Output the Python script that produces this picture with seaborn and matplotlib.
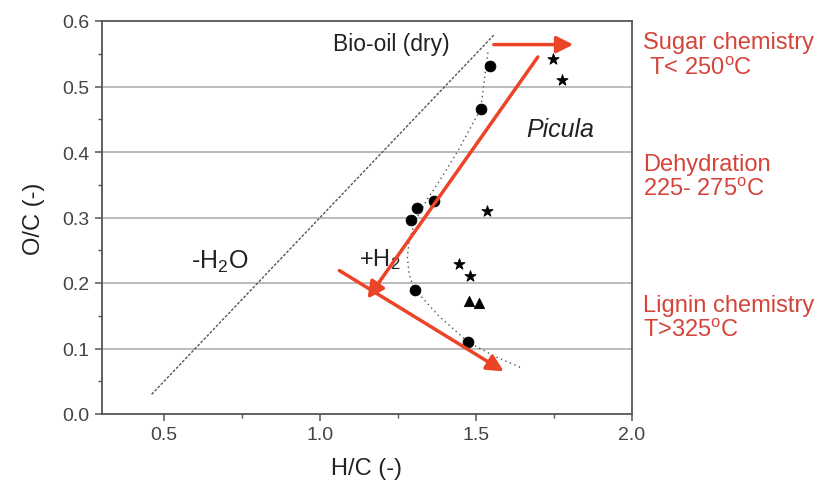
import matplotlib
matplotlib.use("Agg")
import matplotlib.pyplot as plt
import seaborn as sns
import pandas as pd
from matplotlib.ticker import MultipleLocator

# ---- data ----
circle_hc = [1.544, 1.515, 1.365, 1.312, 1.290, 1.304, 1.474]
circle_oc = [0.531, 0.466, 0.325, 0.314, 0.296, 0.190, 0.110]

star_hc = [1.746, 1.775, 1.536, 1.447, 1.481]
star_oc = [0.542, 0.510, 0.310, 0.229, 0.211]

tri_hc = [1.477, 1.509]
tri_oc = [0.173, 0.169]

# dehydration (-H2O) line end points
water_hc = [0.46, 1.56]
water_oc = [0.03, 0.58]

# dotted trend curve through the Picula points
trend_hc = [1.538, 1.515, 1.446, 1.395, 1.344, 1.305, 1.286, 1.280, 1.285, 1.300, 1.380, 1.474, 1.560, 1.647]
trend_oc = [0.552, 0.466, 0.405, 0.365, 0.328, 0.295, 0.265, 0.240, 0.215, 0.192, 0.150, 0.110, 0.088, 0.070]

# red arrows (start -> tip)
arrow_start_hc = [1.557, 1.698, 1.062]
arrow_start_oc = [0.564, 0.545, 0.219]
arrow_tip_hc = [1.812, 1.152, 1.589]
arrow_tip_oc = [0.564, 0.176, 0.065]

x_ticks = [0.5, 1.0, 1.5, 2.0]
y_ticks = [0.0, 0.1, 0.2, 0.3, 0.4, 0.5, 0.6]

side_labels = ["Sugar chemistry\n T< 250$^{\\rm o}$C",
               "Dehydration\n225- 275$^{\\rm o}$C",
               "Lignin chemistry\nT>325$^{\\rm o}$C"]
side_label_y = [0.885, 0.634, 0.343]

sns.set_style("ticks")
plt.rcParams['font.family'] = ['Liberation Sans', 'DejaVu Sans']
plt.rcParams['mathtext.fontset'] = 'custom'
plt.rcParams['mathtext.rm'] = 'Liberation Sans'
plt.rcParams['mathtext.it'] = 'Liberation Sans:italic'

fig = plt.figure(figsize=(8.16, 4.85), dpi=100)
ax = fig.add_axes([101.7/816, 1-415/485, (632-101.7)/816, (415-22)/485])

ax.set_xlim(0.3, 2.0)
ax.set_ylim(0.0, 0.6)

for yv in y_ticks[1:-1]:
    ax.axhline(yv, color="#b0b0b0", lw=1.2, zorder=0)

sns.lineplot(x=water_hc, y=water_oc, ax=ax, color="#555555", lw=1.0,
             linestyle=(0, (2, 1.2)), sort=False, zorder=2)
sns.lineplot(x=trend_hc, y=trend_oc, ax=ax, color="#555555", lw=1.0,
             linestyle=(0, (1, 2.5)), sort=False, zorder=2)

sns.scatterplot(x=circle_hc, y=circle_oc, ax=ax, marker="o", s=60,
                color="black", edgecolor="black", zorder=4)
sns.scatterplot(x=star_hc, y=star_oc, ax=ax, marker="*", s=70,
                color="black", edgecolor="black", zorder=4)
sns.scatterplot(x=tri_hc, y=tri_oc, ax=ax, marker="^", s=55,
                color="black", edgecolor="black", zorder=4)

red = "#ec4427"
for sx, sy, tx, ty in zip(arrow_start_hc, arrow_start_oc, arrow_tip_hc, arrow_tip_oc):
    ax.annotate("", xy=(tx, ty), xytext=(sx, sy),
                arrowprops=dict(arrowstyle="-|>,head_length=1.0,head_width=0.5",
                                color=red, lw=2.5, shrinkA=0, shrinkB=0),
                zorder=5)

ax.text(1.04, 0.565, "Bio-oil (dry)", fontsize=16.5, color="#222222", va="center", ha="left")
ax.text(1.66, 0.435, "Picula", fontsize=18, style="italic", color="#222222", va="center", ha="left")
ax.text(0.585, 0.234, "-H$_2$O", fontsize=18, color="#222222", va="center", ha="left")
ax.text(1.125, 0.237, "+H$_2$", fontsize=17, color="#222222", va="center", ha="left")

ax.set_xticks(x_ticks)
ax.set_yticks(y_ticks)
ax.set_xticklabels([f"{v:.1f}" for v in x_ticks])
ax.set_yticklabels([f"{v:.1f}" for v in y_ticks])
ax.xaxis.set_minor_locator(MultipleLocator(0.25))
ax.yaxis.set_minor_locator(MultipleLocator(0.05))
ax.tick_params(which="major", direction="out", length=5, width=1.1, color="#555555",
               labelsize=14, labelcolor="#444444", pad=4)
ax.tick_params(which="minor", direction="out", length=3, width=1.0, color="#555555")

for sp in ax.spines.values():
    sp.set_color("#555555")
    sp.set_linewidth(1.3)

ax.set_xlabel("H/C (-)", fontsize=17, color="#222222", labelpad=10)
ax.set_ylabel("O/C (-)", fontsize=17, color="#222222", labelpad=12)

for lab, yy in zip(side_labels, side_label_y):
    fig.text(643/816, yy, lab, fontsize=17, color="#d4443a", va="center", ha="left",
             linespacing=1.2)

fig.savefig("out.png", dpi=100)
